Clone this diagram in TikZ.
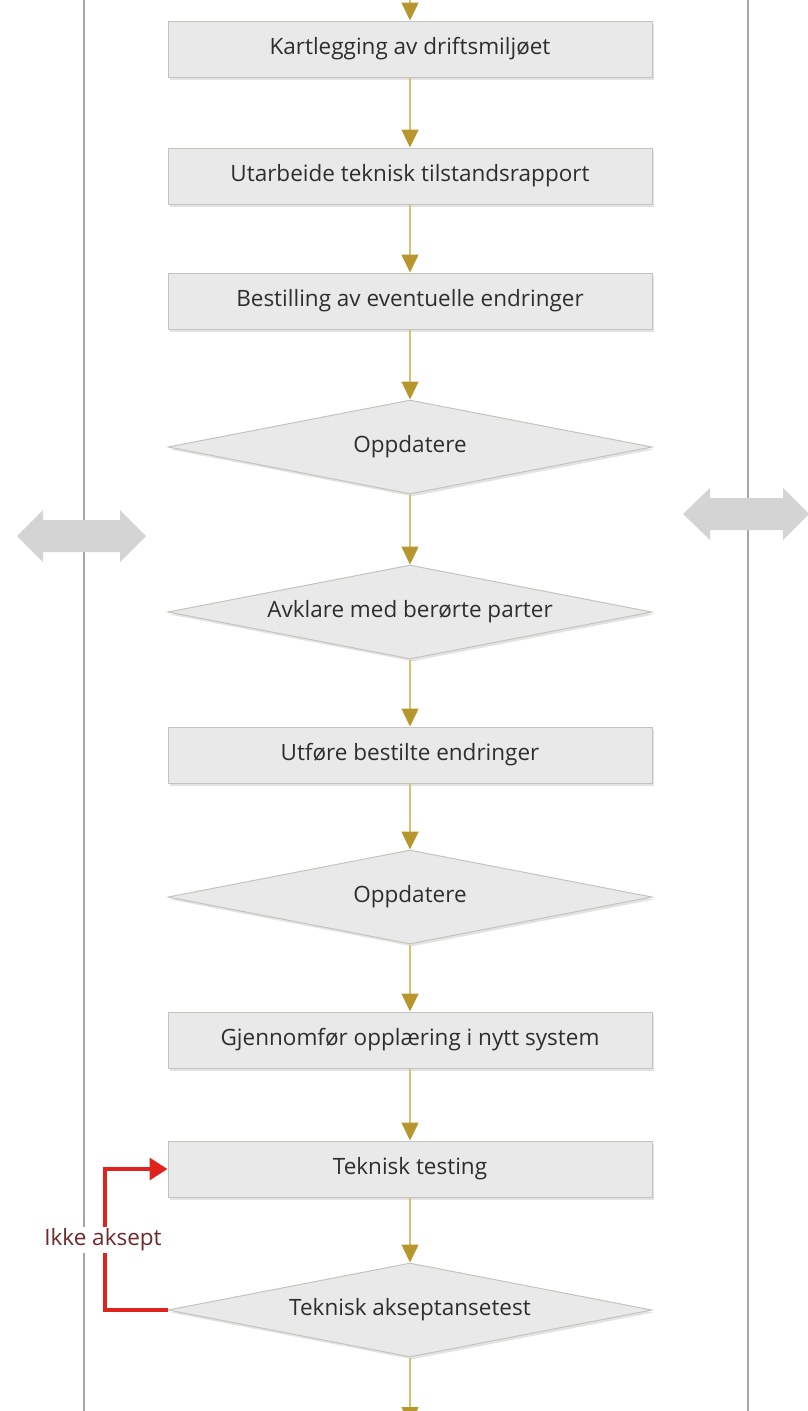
\documentclass[tikz,border=0pt]{standalone}
\usepackage{fontspec}
\setmainfont{Open Sans}
\usepackage{tikz}
\usetikzlibrary{arrows.meta,shapes.geometric,shadows}
\definecolor{flowgold}{HTML}{B8962E}
\definecolor{flowline}{HTML}{D6C270}
\definecolor{flowfill}{HTML}{E9E9E9}
\definecolor{flowedge}{HTML}{C4C4BC}
\definecolor{flowink}{HTML}{2E2E2E}
\definecolor{lanegray}{HTML}{A6A6A6}
\definecolor{swapgray}{HTML}{D4D4D4}
\definecolor{rejred}{HTML}{E0231C}
\definecolor{rejink}{HTML}{6E2A2A}

\begin{document}
\begin{tikzpicture}[x=1pt,y=1pt,
  every node/.style={font=\fontsize{22.5}{26}\selectfont,text=flowink},
  stepbox/.style={rectangle,draw=flowedge,fill=flowfill,line width=1pt,
    minimum width=484pt,minimum height=56pt,inner sep=0pt,
    drop shadow={opacity=0.22,shadow xshift=2pt,shadow yshift=-2.5pt}},
  choice/.style={diamond,draw=flowedge,fill=flowfill,line width=1pt,
    minimum width=484pt,minimum height=94pt,inner sep=0pt,aspect=5,
    drop shadow={opacity=0.22,shadow xshift=2pt,shadow yshift=-2.5pt}},
  flow/.style={flowline,line width=1.5pt,
    -{Triangle[length=18pt,width=17pt,color=flowgold]}},
  reject/.style={rejred,line width=3.5pt,
    -{Triangle[length=18pt,width=22pt]}}]
  \useasboundingbox (0,0) rectangle (807,-1411);

  % swim lanes
  \draw[lanegray,line width=1.5pt] (84,0) -- (84,-1411);
  \draw[lanegray,line width=1.5pt] (748,0) -- (748,-1411);

  % hand-over arrows
  \fill[swapgray] (17,-536) -- (43,-510) -- (43,-520) -- (120,-520) -- (120,-510)
    -- (146,-536) -- (120,-562) -- (120,-552) -- (43,-552) -- (43,-562) -- cycle;
  \fill[swapgray] (683,-514) -- (710,-488) -- (710,-498) -- (783,-498) -- (783,-488)
    -- (809,-514) -- (783,-540) -- (783,-530) -- (710,-530) -- (710,-540) -- cycle;

  % steps
  \node[stepbox] (kart) at (410,-49) {Kartlegging av driftsmiljøet};
  \node[stepbox] (rapport) at (410,-176) {Utarbeide teknisk tilstandsrapport};
  \node[stepbox] (bestill) at (410,-301) {Bestilling av eventuelle endringer};
  \node[choice] (oppd1) at (410,-447) {Oppdatere};
  \node[choice] (avklar) at (410,-612) {Avklare med berørte parter};
  \node[stepbox] (utfor) at (410,-755) {Utføre bestilte endringer};
  \node[choice] (oppd2) at (410,-897) {Oppdatere};
  \node[stepbox] (opplaer) at (410,-1040) {Gjennomfør opplæring i nytt system};
  \node[stepbox] (testing) at (410,-1169) {Teknisk testing};
  \node[choice] (aksept) at (410,-1310) {Teknisk akseptansetest};

  \coordinate (inn) at (410,0);
  \coordinate (ut) at (410,-1425);

  % connectors
  \draw[flow] (inn) -- (kart);
  \draw[flow] (kart) -- (rapport);
  \draw[flow] (rapport) -- (bestill);
  \draw[flow] (bestill) -- (oppd1);
  \draw[flow] (oppd1) -- (avklar);
  \draw[flow] (avklar) -- (utfor);
  \draw[flow] (utfor) -- (oppd2);
  \draw[flow] (oppd2) -- (opplaer);
  \draw[flow] (opplaer) -- (testing);
  \draw[flow] (testing) -- (aksept);
  \draw[flow] (aksept) -- (ut);

  % rejection loop
  \draw[reject] (aksept.west) -- (105,-1310) -- (105,-1169) -- (testing.west);
  \node[fill=white,text=rejink,inner sep=2pt] (ikke) at (103,-1240) {Ikke aksept};
\end{tikzpicture}
\end{document}
